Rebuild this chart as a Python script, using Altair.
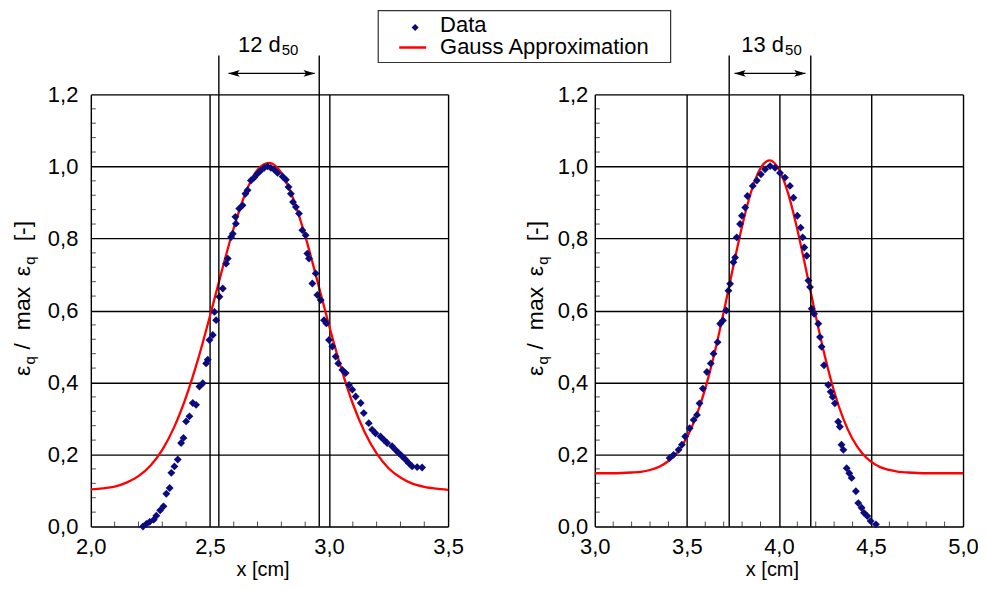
import altair as alt
import pandas as pd

# ---------------- data ----------------
# left panel: measured data
left_x = [2.219, 2.233, 2.247, 2.264, 2.275, 2.291, 2.305, 2.317, 2.331, 2.338, 2.351, 2.365,
          2.379, 2.389, 2.400, 2.414, 2.428, 2.442, 2.456, 2.470, 2.484, 2.491, 2.498, 2.512,
          2.526, 2.519, 2.540, 2.554, 2.568, 2.575, 2.589, 2.596, 2.609, 2.607, 2.623, 2.637,
          2.649, 2.658, 2.672, 2.686, 2.700, 2.714, 2.728, 2.742, 2.756, 2.770, 2.784, 2.805,
          2.819, 2.830, 2.840, 2.849, 2.861, 2.874, 2.888, 2.902, 2.909, 2.916, 2.944, 2.930,
          2.951, 2.965, 2.979, 2.989, 3.000, 3.014, 3.028, 3.039, 3.056, 3.070, 3.084, 3.098,
          3.112, 3.133, 3.146, 3.167, 3.181, 3.195, 3.216, 3.230, 3.244, 3.265, 3.279, 3.293,
          3.307, 3.321, 3.335, 3.349, 3.370, 3.391]
left_y = [0.000, 0.007, 0.013, 0.019, 0.030, 0.045, 0.056, 0.091, 0.107, 0.149, 0.167, 0.186,
          0.232, 0.246, 0.292, 0.306, 0.343, 0.338, 0.389, 0.398, 0.453, 0.463, 0.518, 0.532,
          0.573, 0.596, 0.638, 0.661, 0.730, 0.744, 0.804, 0.813, 0.841, 0.860, 0.883, 0.892,
          0.924, 0.934, 0.961, 0.969, 0.980, 0.989, 0.996, 1.000, 0.996, 0.991, 0.982, 0.972,
          0.963, 0.943, 0.924, 0.901, 0.887, 0.869, 0.823, 0.809, 0.758, 0.744, 0.703, 0.675,
          0.643, 0.629, 0.573, 0.564, 0.518, 0.500, 0.472, 0.453, 0.435, 0.426, 0.393, 0.380,
          0.361, 0.343, 0.315, 0.287, 0.269, 0.259, 0.250, 0.241, 0.232, 0.223, 0.213, 0.204,
          0.195, 0.186, 0.176, 0.167, 0.165, 0.164]

# left panel: Gauss approximation
left_fit_x = [2.00, 2.05, 2.10, 2.15, 2.20, 2.25, 2.30, 2.35, 2.40, 2.45, 2.50, 2.55, 2.60,
              2.65, 2.70, 2.75, 2.80, 2.85, 2.90, 2.95, 3.00, 3.05, 3.10, 3.15, 3.20, 3.25,
              3.30, 3.35, 3.40, 3.45, 3.50]
left_fit_y = [0.103, 0.106, 0.111, 0.122, 0.140, 0.169, 0.213, 0.276, 0.360, 0.464, 0.584,
              0.710, 0.829, 0.927, 0.991, 1.010, 0.982, 0.910, 0.807, 0.685, 0.559, 0.442,
              0.341, 0.262, 0.203, 0.162, 0.136, 0.119, 0.110, 0.105, 0.102]

# right panel: measured data
right_x = [3.406, 3.428, 3.455, 3.473, 3.491, 3.515, 3.537, 3.555, 3.569, 3.587, 3.609, 3.630,
           3.645, 3.667, 3.681, 3.696, 3.714, 3.726, 3.735, 3.753, 3.762, 3.771, 3.789, 3.799,
           3.817, 3.829, 3.858, 3.880, 3.902, 3.925, 3.952, 3.979, 4.006, 4.033, 4.060, 4.079,
           4.100, 4.118, 4.129, 4.138, 4.151, 4.160, 4.169, 4.178, 4.191, 4.214, 4.223, 4.232,
           4.245, 4.268, 4.281, 4.292, 4.304, 4.322, 4.331, 4.340, 4.350, 4.368, 4.382, 4.395,
           4.418, 4.431, 4.449, 4.462, 4.480, 4.498, 4.527]
right_y = [0.190, 0.199, 0.213, 0.227, 0.250, 0.273, 0.296, 0.310, 0.342, 0.383, 0.429, 0.453,
           0.480, 0.512, 0.563, 0.572, 0.600, 0.655, 0.674, 0.734, 0.747, 0.803, 0.840, 0.863,
           0.886, 0.918, 0.946, 0.961, 0.978, 0.992, 1.001, 0.996, 0.982, 0.969, 0.946, 0.913,
           0.863, 0.830, 0.803, 0.775, 0.752, 0.683, 0.665, 0.605, 0.591, 0.563, 0.526, 0.499,
           0.448, 0.393, 0.374, 0.360, 0.342, 0.291, 0.277, 0.227, 0.213, 0.162, 0.148, 0.135,
           0.098, 0.065, 0.052, 0.038, 0.029, 0.015, 0.006]

# right panel: Gauss approximation
right_fit_x = [3.00, 3.10, 3.20, 3.25, 3.30, 3.35, 3.40, 3.45, 3.50, 3.55, 3.60, 3.65, 3.70,
               3.75, 3.80, 3.85, 3.90, 3.95, 4.00, 4.05, 4.10, 4.15, 4.20, 4.25, 4.30, 4.35,
               4.40, 4.45, 4.50, 4.55, 4.60, 4.65, 4.70, 4.80, 4.90, 5.00]
right_fit_y = [0.148, 0.148, 0.150, 0.152, 0.157, 0.166, 0.182, 0.207, 0.247, 0.305, 0.383,
               0.481, 0.595, 0.717, 0.834, 0.931, 0.995, 1.017, 0.992, 0.925, 0.825, 0.707,
               0.585, 0.472, 0.375, 0.299, 0.243, 0.205, 0.180, 0.165, 0.157, 0.152, 0.150,
               0.148, 0.148, 0.148]

# axes
left_xticks = [2.0, 2.5, 3.0, 3.5]
right_xticks = [3.0, 3.5, 4.0, 4.5, 5.0]
yticks = [0.0, 0.2, 0.4, 0.6, 0.8, 1.0, 1.2]
left_xminor = [2.1, 2.2, 2.3, 2.4, 2.6, 2.7, 2.8, 2.9, 3.1, 3.2, 3.3, 3.4]
right_xminor = [3.1, 3.2, 3.3, 3.4, 3.6, 3.7, 3.8, 3.9, 4.1, 4.2, 4.3, 4.4, 4.6, 4.7, 4.8, 4.9]
yminor = [0.04, 0.08, 0.12, 0.16, 0.24, 0.28, 0.32, 0.36, 0.44, 0.48, 0.52, 0.56,
          0.64, 0.68, 0.72, 0.76, 0.84, 0.88, 0.92, 0.96, 1.04, 1.08, 1.12, 1.16]

# annotations (width markers)
left_marks = [2.5375, 2.959]
left_arrow = [2.578, 2.940]
left_label = ("12 d", "50", 2.797)
right_marks = [3.730, 4.173]
right_arrow = [3.759, 4.144]
right_label = ("13 d", "50", 4.028)

legend_labels = ["Data", "Gauss Approximation"]

# ---------------- style ----------------
FONT = "Liberation Sans"
NAVY = "#0b0b7f"
RED = "#ff0000"
H = 433
W_LEFT = 358
W_RIGHT = 369
ONE = pd.DataFrame({"k": [0]})
LABEL_EXPR = "replace(format(datum.value, '.1f'), '.', ',')"


def txt(text, x, y, size, angle=0, align="left", baseline="alphabetic"):
    return alt.Chart(ONE).mark_text(
        text=text, font=FONT, fontSize=size, angle=angle, align=align,
        baseline=baseline, color="black"
    ).encode(x=alt.value(x), y=alt.value(y))


def panel(px, py, fx, fy, xdom, width, xticks, xminor, marks, arrow, label,
          title_x, xlabpad, ylabpad, legend=False):
    xs = alt.Scale(domain=xdom, nice=False, zero=False)
    ys = alt.Scale(domain=[0, 1.2], nice=False, zero=False)
    xaxis = alt.Axis(values=xticks, labelExpr=LABEL_EXPR, grid=True, ticks=False,
                     domain=False, title="x [cm]", titleFont=FONT, titleFontSize=20,
                     titleFontWeight="normal", titleColor="black",
                     titleBaseline="alphabetic", titleY=49, titleAlign="center",
                     titleX=width / 2 - 7, labelFont=FONT, labelFontSize=22,
                     labelColor="black", labelPadding=xlabpad, gridColor="black",
                     gridWidth=1.4, gridOpacity=1, labelFlush=False)
    yaxis = alt.Axis(values=yticks, labelExpr=LABEL_EXPR, grid=True, ticks=False,
                     domain=False, title="", labelFont=FONT, labelFontSize=22,
                     labelColor="black", labelPadding=ylabpad, gridColor="black",
                     gridWidth=1.4, gridOpacity=1, labelFlush=False)

    pts_df = pd.DataFrame({"x": px, "y": py})
    fit_df = pd.DataFrame({"x": fx, "y": fy})

    pts = alt.Chart(pts_df).mark_point(shape="diamond", filled=True, color=NAVY,
                                       size=62, opacity=1).encode(
        x=alt.X("x:Q", scale=xs, axis=xaxis),
        y=alt.Y("y:Q", scale=ys, axis=yaxis),
    )
    line = alt.Chart(fit_df).mark_line(color=RED, strokeWidth=2.3,
                                       interpolate="monotone").encode(
        x=alt.X("x:Q", scale=xs), y=alt.Y("y:Q", scale=ys))

    xt = alt.Chart(pd.DataFrame({"t": xminor})).mark_tick(
        orient="vertical", size=5, thickness=1, color="black", yOffset=-2.5
    ).encode(x=alt.X("t:Q", scale=xs), y=alt.value(H))
    yt = alt.Chart(pd.DataFrame({"t": yminor})).mark_tick(
        orient="horizontal", size=5, thickness=1, color="black", xOffset=2.5
    ).encode(y=alt.Y("t:Q", scale=ys), x=alt.value(0))

    vmarks = alt.Chart(pd.DataFrame({"m": marks})).mark_rule(
        color="black", strokeWidth=1.4
    ).encode(x=alt.X("m:Q", scale=xs), y=alt.value(-39), y2=alt.value(H))

    arrow_line = alt.Chart(ONE).mark_rule(color="black", strokeWidth=1.3).encode(
        x=alt.XDatum(arrow[0], scale=xs), x2=alt.X2Datum(arrow[1]), y=alt.value(-21))
    head_l = alt.Chart(ONE).mark_point(
        shape="M -1 0 L 1 -0.6 L 0.55 0 L 1 0.6 Z", filled=True, color="black",
        size=130, opacity=1, xOffset=5.5
    ).encode(x=alt.XDatum(arrow[0], scale=xs), y=alt.value(-21))
    head_r = alt.Chart(ONE).mark_point(
        shape="M 1 0 L -1 -0.6 L -0.55 0 L -1 0.6 Z", filled=True, color="black",
        size=130, opacity=1, xOffset=-5.5
    ).encode(x=alt.XDatum(arrow[1], scale=xs), y=alt.value(-21))

    lab_main = alt.Chart(ONE).mark_text(
        text=label[0], font=FONT, fontSize=22, align="right", baseline="alphabetic",
        color="black").encode(x=alt.XDatum(label[2], scale=xs), y=alt.value(-43))
    lab_sub = alt.Chart(ONE).mark_text(
        text=label[1], font=FONT, fontSize=15, align="left", baseline="alphabetic",
        color="black", dx=1).encode(x=alt.XDatum(label[2], scale=xs), y=alt.value(-39))

    # y axis title assembled from pieces (subscripts)
    bx, sx = title_x
    ytitle = [
        txt("\u03b5", bx, 277, 23, angle=270, align="center"),
        txt("q", sx, 266.5, 15, angle=270, align="center"),
        txt("/", bx, 252.5, 23, angle=270, align="center"),
        txt("max", bx, 214.5, 23, angle=270, align="center"),
        txt("\u03b5", bx, 177, 23, angle=270, align="center"),
        txt("q", sx, 166.5, 15, angle=270, align="center"),
        txt("[-]", bx, 137, 23, angle=270, align="center"),
    ]

    layers = [line, pts, xt, yt, vmarks, arrow_line, head_l, head_r, lab_main, lab_sub] + ytitle

    if legend:
        box = alt.Chart(ONE).mark_rect(fill="white", stroke="#333333", strokeWidth=1.2).encode(
            x=alt.value(288), x2=alt.value(581), y=alt.value(-84), y2=alt.value(-32))
        sym = alt.Chart(ONE).mark_point(shape="diamond", filled=True, color=NAVY,
                                        size=50, opacity=1).encode(
            x=alt.value(325), y=alt.value(-67))
        lin = alt.Chart(ONE).mark_rule(color=RED, strokeWidth=2.5).encode(
            x=alt.value(309), x2=alt.value(336), y=alt.value(-47))
        t1 = txt(legend_labels[0], 350, -63, 22)
        t2 = txt(legend_labels[1], 350, -40, 22)
        layers += [box, sym, lin, t1, t2]

    return alt.layer(*layers).properties(width=width, height=H)


left = panel(left_x, left_y, left_fit_x, left_fit_y, [2.0, 3.5], W_LEFT, left_xticks,
             left_xminor, left_marks, left_arrow, left_label, (-61, -56), 10, 13,
             legend=True)
right = panel(right_x, right_y, right_fit_x, right_fit_y, [3.0, 5.0], W_RIGHT, right_xticks,
              right_xminor, right_marks, right_arrow, right_label, (-52, -47), 10, 7)

chart = alt.hconcat(left, right, spacing=147, bounds="flush").properties(
    padding={"left": 3, "top": 0, "right": -1, "bottom": 0}
).configure_view(stroke="black", strokeWidth=2).configure(background="white")

chart.save("out.html", embed_options={"renderer": "svg", "actions": False})
